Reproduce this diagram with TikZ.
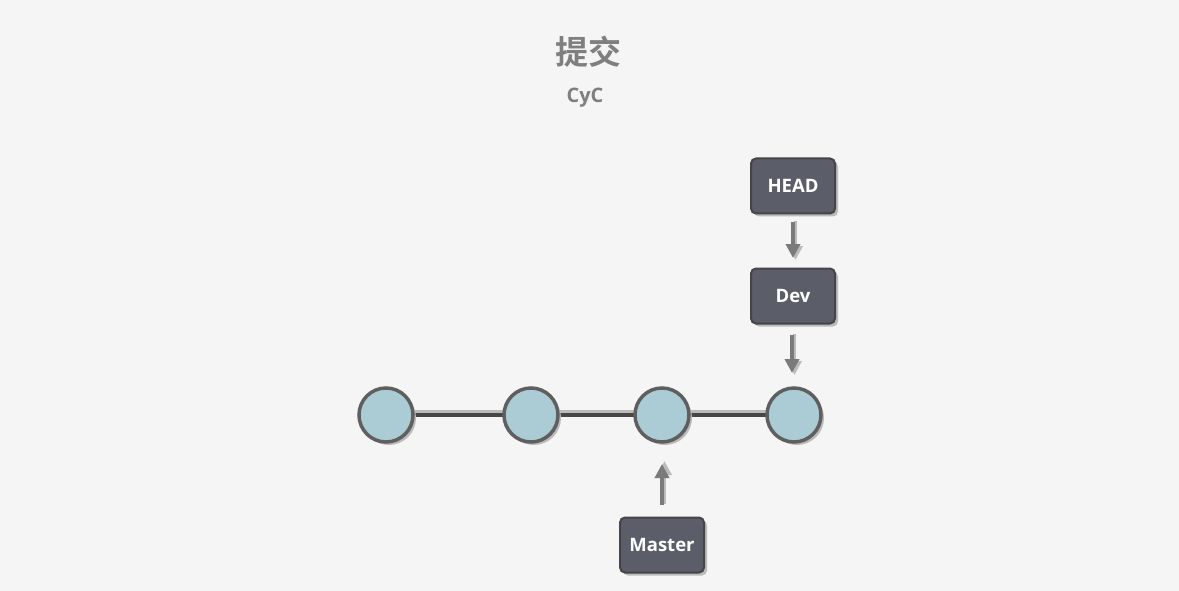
\documentclass[tikz,border=0pt]{standalone}
\usepackage{fontspec}
\setmainfont{Open Sans}
\newfontfamily\boldsans{Open Sans Bold}
\newfontfamily\cjk{Noto Sans CJK SC Bold}
\usetikzlibrary{arrows.meta,shadows}
\definecolor{bg}{HTML}{F5F5F5}
\definecolor{boxfill}{HTML}{5B5E68}
\definecolor{boxline}{HTML}{454548}
\definecolor{cfill}{HTML}{ABCCD4}
\definecolor{cline}{HTML}{5F5F5F}
\definecolor{arr}{HTML}{7A7A7A}
\definecolor{ttl}{HTML}{7F7F7F}
\definecolor{shd}{HTML}{BBBBBB}
\tikzset{
  commit/.style={circle, minimum size=54pt, inner sep=0pt, fill=cfill, draw=cline, line width=3.5pt,
    drop shadow={shadow xshift=3pt, shadow yshift=-3pt, fill=shd, opacity=1}},
  ref/.style={rounded corners=5pt, minimum width=84pt, minimum height=55pt, fill=boxfill, draw=boxline,
    line width=2pt, text=white, font=\boldsans\fontsize{18.5}{20}\selectfont,
    drop shadow={shadow xshift=3pt, shadow yshift=-3pt, fill=shd, opacity=1}},
  link/.style={line width=4pt, draw=black!72},
  linkshadow/.style={line width=4pt, draw=shd},
  ptr/.style={line width=3.5pt, draw=arr, -{Triangle[width=14pt,length=14pt]}, shorten >=0pt},
  ptrshadow/.style={line width=3.5pt, draw=shd, fill=shd, -{Triangle[width=14pt,length=14pt]}},
}
\begin{document}
\begin{tikzpicture}[x=1pt,y=-1pt]
\fill[bg] (0,0) rectangle (1179,591);
\useasboundingbox (0,0) rectangle (1179,591);
\node[text=ttl, font=\cjk\fontsize{33}{35}\selectfont] (title) at (588,52) {提交};
\node[text=ttl, font=\boldsans\fontsize{20}{22}\selectfont] (sub) at (585,98) {CyC};
\coordinate (c1) at (386,415);
\coordinate (c2) at (531,415);
\coordinate (c3) at (662,415);
\coordinate (c4) at (794,415);
\draw[linkshadow] ([yshift=3pt]c1) -- ([yshift=3pt]c4);
\draw[link] (c1) -- (c4);
\node[commit] (n1) at (c1) {};
\node[commit] (n2) at (c2) {};
\node[commit] (n3) at (c3) {};
\node[commit] (n4) at (c4) {};
\node[ref] (head) at (793,186) {HEAD};
\node[ref] (dev) at (793,296) {Dev};
\node[ref] (master) at (662,545) {Master};
\coordinate (a1s) at (793,222); \coordinate (a1e) at (793,258);
\coordinate (a2s) at (792,335); \coordinate (a2e) at (792,373);
\coordinate (a3s) at (662,505); \coordinate (a3e) at (662,464);
\draw[ptrshadow] ([xshift=2.5pt,yshift=1pt]a1s) -- ([xshift=2.5pt,yshift=-2pt]a1e);
\draw[ptr] (a1s) -- (a1e);
\draw[ptrshadow] ([xshift=2.5pt,yshift=1pt]a2s) -- ([xshift=2.5pt,yshift=-2pt]a2e);
\draw[ptr] (a2s) -- (a2e);
\draw[ptrshadow] ([xshift=2.5pt,yshift=1pt]a3s) -- ([xshift=2.5pt,yshift=3pt]a3e);
\draw[ptr] (a3s) -- (a3e);
\end{tikzpicture}
\end{document}
